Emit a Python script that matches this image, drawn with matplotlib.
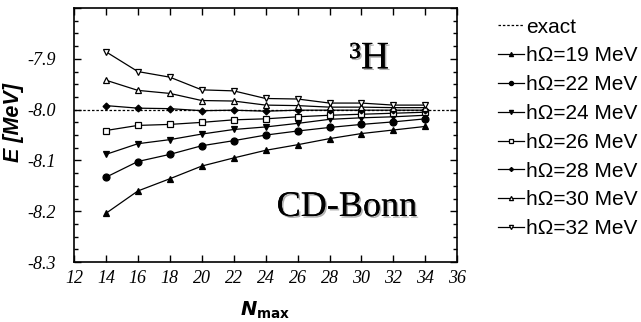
import matplotlib
matplotlib.use("Agg")
import matplotlib.pyplot as plt
import matplotlib.patheffects as pe
from matplotlib.ticker import MultipleLocator, FuncFormatter

plt.rcParams["axes.unicode_minus"] = False

nmax = [14, 16, 18, 20, 22, 24, 26, 28, 30, 32, 34]
exact = -8.0
e19 = [-8.204, -8.160, -8.136, -8.111, -8.095, -8.080, -8.069, -8.057, -8.047, -8.040, -8.033]
e22 = [-8.133, -8.102, -8.088, -8.071, -8.061, -8.050, -8.042, -8.035, -8.029, -8.024, -8.018]
e24 = [-8.088, -8.067, -8.059, -8.048, -8.039, -8.034, -8.027, -8.019, -8.016, -8.014, -8.011]
e26 = [-8.041, -8.031, -8.029, -8.025, -8.020, -8.018, -8.014, -8.011, -8.009, -8.007, -8.005]
e28 = [-7.992, -7.997, -7.998, -8.002, -8.001, -8.003, -8.001, -8.001, -8.001, -8.001, -8.001]
e30 = [-7.942, -7.962, -7.968, -7.982, -7.983, -7.991, -7.992, -7.995, -7.995, -7.996, -7.996]
e32 = [-7.886, -7.925, -7.936, -7.961, -7.963, -7.978, -7.979, -7.987, -7.987, -7.991, -7.991]
labels = ["h\u03a9=19 MeV", "h\u03a9=22 MeV", "h\u03a9=24 MeV", "h\u03a9=26 MeV",
          "h\u03a9=28 MeV", "h\u03a9=30 MeV", "h\u03a9=32 MeV"]
xticks = [12, 14, 16, 18, 20, 22, 24, 26, 28, 30, 32, 34, 36]

fig = plt.figure(figsize=(6.41, 3.22), dpi=100)
ax = fig.add_axes([0.1154, 0.186, 0.598, 0.789])

ax.plot([12, 36], [exact, exact], ls=(0, (2.0, 1.5)), color="black", lw=0.9, label="exact")
styles = [("^", "black", 5), ("o", "black", 5), ("v", "black", 5), ("s", "white", 5),
          ("D", "black", 3.5), ("^", "white", 5), ("v", "white", 5)]
for data, lab, (m, fc, ms) in zip([e19, e22, e24, e26, e28, e30, e32], labels, styles):
    ax.plot(nmax, data, marker=m, color="black", mfc=fc, mec="black", ms=ms, mew=0.9,
            lw=0.9, label=lab)

ax.set_xlim(12, 36)
ax.set_ylim(-8.3, -7.8)
ax.set_xticks(xticks)
ax.yaxis.set_major_locator(MultipleLocator(0.1))
ax.yaxis.set_minor_locator(MultipleLocator(0.025))
ax.yaxis.set_major_formatter(FuncFormatter(lambda v, p: "" if v > -7.85 else "%.1f" % v))
ax.tick_params(which="both", direction="in", top=True, right=True)
ax.tick_params(which="major", length=5, width=1)
ax.tick_params(which="minor", length=3, width=1)
ax.tick_params(axis="x", pad=6)
ax.tick_params(axis="y", pad=13)
for sp in ax.spines.values():
    sp.set_linewidth(1.2)
for t in ax.get_xticklabels() + ax.get_yticklabels():
    t.set_fontfamily("Liberation Serif")
    t.set_fontstyle("italic")
    t.set_fontsize(13)

ax.set_ylabel("E [MeV]", fontfamily="Liberation Sans", fontweight="bold",
              fontstyle="italic", fontsize=15.5)
ax.yaxis.set_label_coords(-0.131, 0.55)
ax.set_xlabel(r"$\boldsymbol{N}_{\mathbf{max}}$", fontsize=14, labelpad=9)

shadow = [pe.withSimplePatchShadow(offset=(1.2, -1.2), shadow_rgbFace="gray", alpha=0.6), pe.Normal()]
ax.text(0.77, 0.80, "\u00b3H", transform=ax.transAxes, fontfamily="Liberation Serif",
        fontsize=28, ha="center", va="center", path_effects=shadow)
ax.text(0.712, 0.215, "CD-Bonn", transform=ax.transAxes, fontfamily="Liberation Serif",
        fontsize=26, ha="center", va="center", path_effects=shadow)

ax.legend(loc="upper left", bbox_to_anchor=(1.105, 0.962), frameon=False,
          prop={"family": "Liberation Sans", "size": 15}, handlelength=1.25,
          handletextpad=0.1, labelspacing=0.47, markerscale=0.6, borderaxespad=0.0,
          borderpad=0.0)

fig.savefig("out.png", dpi=100)
